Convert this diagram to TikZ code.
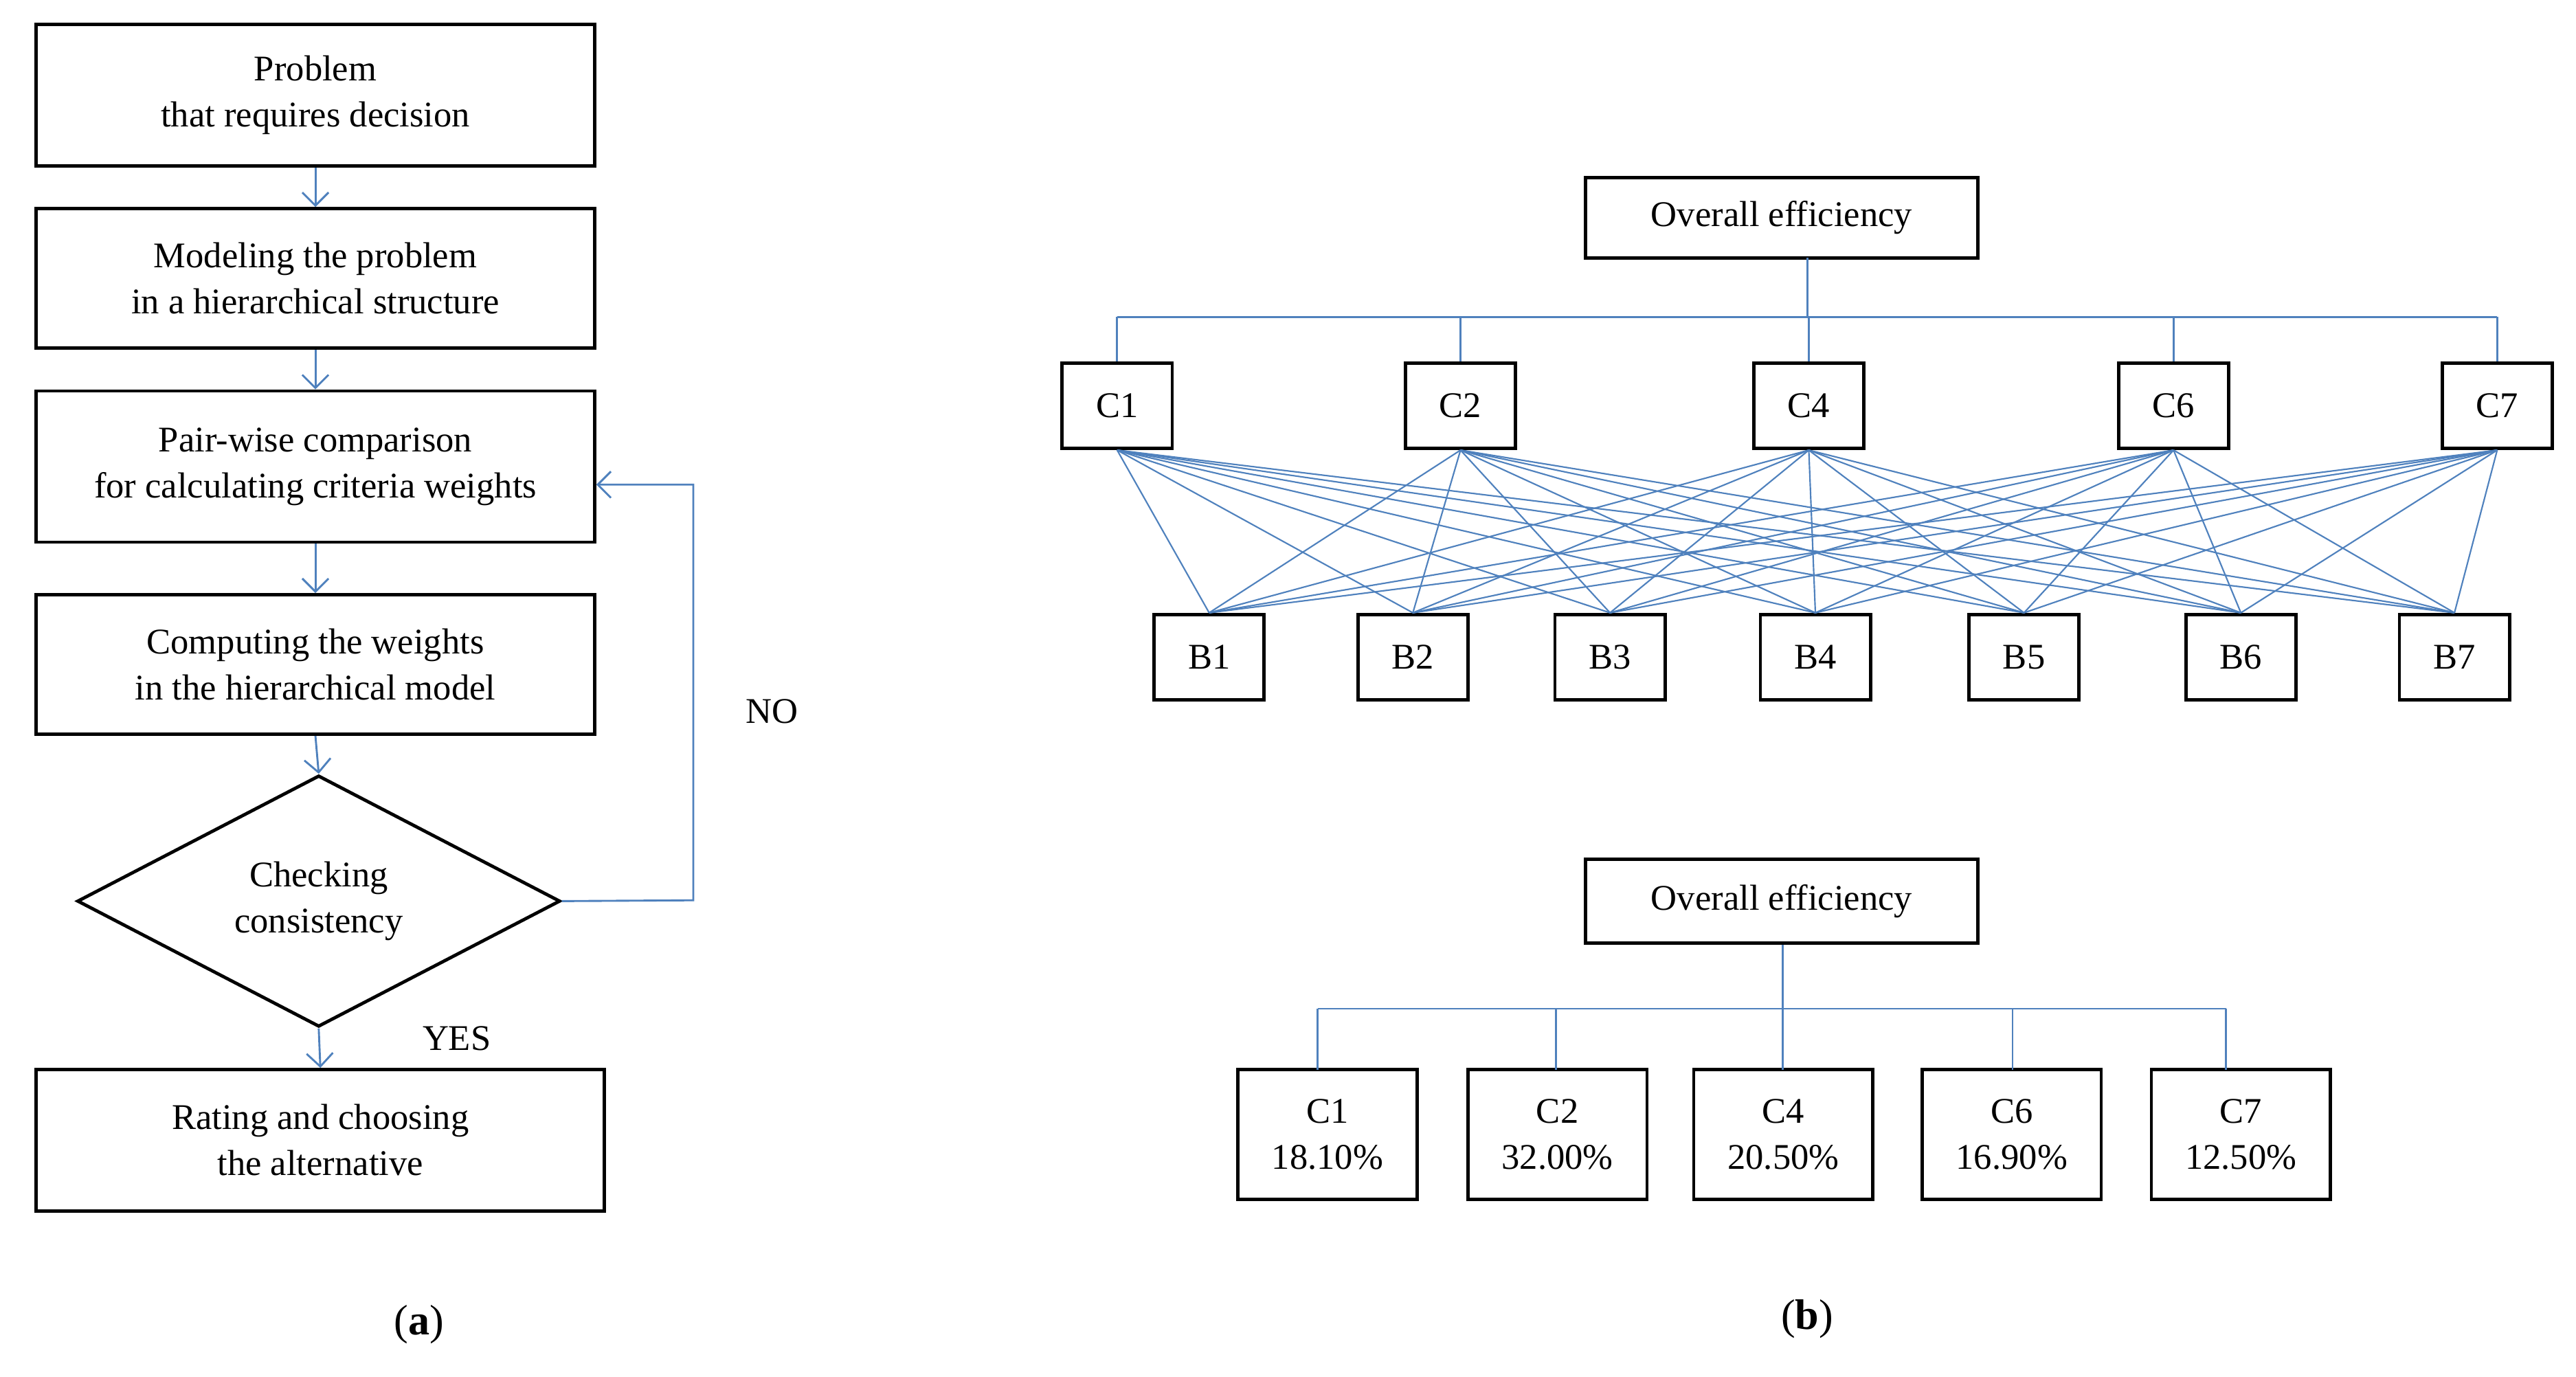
\documentclass[tikz,border=0pt]{standalone}
\usepackage{fontspec}
\setmainfont{Liberation Serif}
\usetikzlibrary{shapes.geometric,arrows.meta}
\definecolor{lb}{RGB}{79,129,189}
\begin{document}
\begin{tikzpicture}[x=0.5pt,y=-0.5pt,
  box/.style={draw=black,line width=1pt,inner sep=0pt,align=center,font=\fontsize{11}{14}\selectfont},
  con/.style={draw=lb,line width=0.6pt},
  arr/.style={con,-{Straight Barb[length=4pt,width=8pt]}},
  lbl/.style={font=\fontsize{11}{14}\selectfont}]
\useasboundingbox (0,0) rectangle (1568,838);
% (a)
\node[box,minimum width=170pt,minimum height=43pt] (p1) at (192,58) {Problem\\that requires decision};
\node[box,minimum width=170pt,minimum height=42.5pt] (p2) at (192,169.5) {Modeling the problem\\in a hierarchical structure};
\node[box,minimum width=170pt,minimum height=46pt] (p3) at (192,284) {Pair-wise comparison\\for calculating criteria weights};
\node[box,minimum width=170pt,minimum height=42.5pt] (p4) at (192,404.5) {Computing the weights\\in the hierarchical model};
\node[box,diamond,aspect=1.92,minimum width=147pt,minimum height=76.5pt] (d) at (194,548.5) {Checking\\consistency};
\node[box,minimum width=173pt,minimum height=43pt] (p5) at (195,694) {Rating and choosing\\the alternative};
\draw[arr] (p1.south) -- (p2.north);
\draw[arr] (p2.south) -- (p3.north);
\draw[arr] (p3.south) -- (p4.north);
\draw[arr] (p4.south) -- (d.north);
\draw[arr] (d.south) -- (p5.north);
\coordinate (n1) at (422,548);
\coordinate (n2) at (422,295);
\draw[arr] (d.east) -- (n1) -- (n2) -- (p3.east|-n2);
\node[lbl] (no) at (470,433) {NO};
\node[lbl] (yes) at (278,632) {YES};
\node[font=\fontsize{13}{15}\selectfont] (la) at (255,806) {(\textbf{a})};
% (b) top
\tikzset{cb/.style={box,minimum width=33.5pt,minimum height=26pt}}
\node[box,minimum width=119.5pt,minimum height=24.5pt] (o1) at (1084.5,132.5) {Overall efficiency};
\foreach \n/\x in {1/680,2/889,4/1101,6/1323,7/1520}
  \node[cb] (c\n) at (\x,247) {C\n};
\foreach \n/\x in {1/736,2/860,3/980,4/1105,5/1232,6/1364,7/1494}
  \node[cb] (b\n) at (\x,400) {B\n};
\coordinate (h) at (1100,193);
\draw[con] (1100,157) -- (h);
\draw[con] (c1.north|-h) -- (c7.north|-h);
\foreach \n in {1,2,4,6,7} \draw[con] (c\n.north|-h) -- (c\n.north);
\foreach \c in {1,2,4,6,7}
  \foreach \b in {1,...,7}
    \draw[con,line width=0.45pt] (c\c.south) -- (b\b.north);
% (b) bottom
\node[box,minimum width=119.5pt,minimum height=25.5pt] (o2) at (1084.5,548.5) {Overall efficiency};
\tikzset{cp/.style={box,minimum width=54.5pt,minimum height=39.5pt}}
\node[cp] (e1) at (808,690.5) {C1\\18.10\%};
\node[cp] (e2) at (948,690.5) {C2\\32.00\%};
\node[cp] (e4) at (1085.5,690.5) {C4\\20.50\%};
\node[cp] (e6) at (1224.5,690.5) {C6\\16.90\%};
\node[cp] (e7) at (1364,690.5) {C7\\12.50\%};
\coordinate (g) at (1085,614);
\draw[con] (o2.south-|g) -- (g);
\draw[con] (802,614) -- (1355,614);
\foreach \n/\x in {1/802,2/947,4/1085,6/1225,7/1355}
  \draw[con] (\x,614) -- (\x,651);
\node[font=\fontsize{13}{15}\selectfont] (lb) at (1100,803) {(\textbf{b})};
\end{tikzpicture}
\end{document}
